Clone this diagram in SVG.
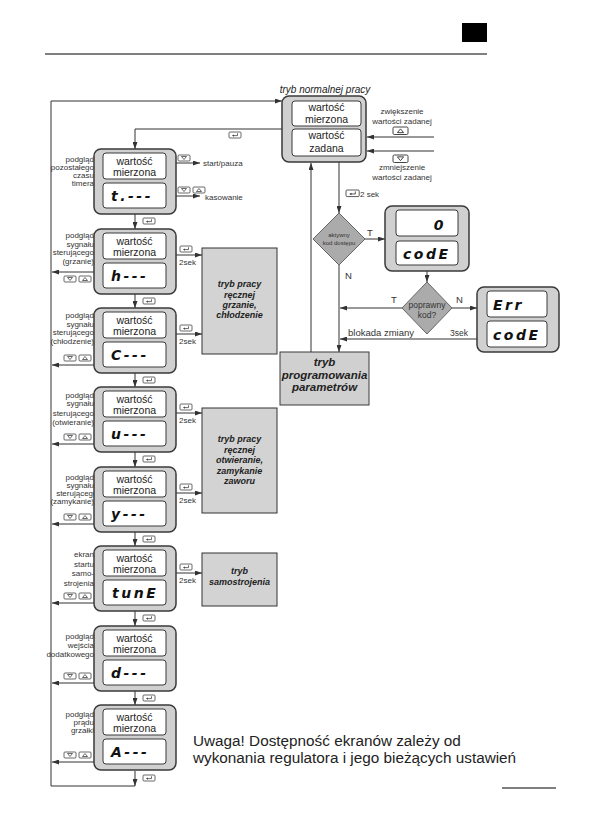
<svg xmlns="http://www.w3.org/2000/svg" xmlns:xlink="http://www.w3.org/1999/xlink" width="596" height="840" viewBox="0 0 596 840">
<style>
.box{fill:#d0d0d0;stroke:#3a3a3a;stroke-width:1.5}
.disp{fill:#fff;stroke:#3a3a3a;stroke-width:1}
.mode{fill:#d3d3d3;stroke:#333;stroke-width:1}
.dia{fill:#ababab;stroke:#666;stroke-width:1}
.ln{fill:none;stroke:#333;stroke-width:1}
.wm{font-family:"Liberation Sans",Arial,sans-serif;font-size:10.5px;fill:#222;text-anchor:middle}
.lbl{font-family:"Liberation Sans",Arial,sans-serif;font-size:8px;fill:#333;text-anchor:end}
.sm{font-family:"Liberation Sans",Arial,sans-serif;font-size:8px;fill:#333}
.smc{font-family:"Liberation Sans",Arial,sans-serif;font-size:8px;fill:#333;text-anchor:middle}
.seg{font-family:"DejaVu Sans",sans-serif;font-size:14px;font-weight:bold;font-style:italic;fill:#111;letter-spacing:2.5px}
.modet{font-family:"Liberation Sans",Arial,sans-serif;font-size:9px;font-weight:bold;font-style:italic;fill:#222;text-anchor:middle}
.prog{font-family:"Liberation Sans",Arial,sans-serif;font-size:11.5px;font-weight:bold;font-style:italic;fill:#222;text-anchor:middle}
.btn{fill:#fff;stroke:#444;stroke-width:0.8}
.ico{fill:none;stroke:#444;stroke-width:0.8}
</style>
<defs>
<marker id="a" markerWidth="7" markerHeight="5" refX="7" refY="2.5" orient="auto" markerUnits="userSpaceOnUse"><path d="M0,0 L7,2.5 L0,5 z" fill="#333"/></marker>
<g id="bd"><rect class="btn" x="0" y="0" width="12" height="6" rx="1"/><path class="ico" d="M3.5,1.5 L8.5,1.5 L6,4.5 z"/></g>
<g id="bu"><rect class="btn" x="0" y="0" width="12" height="6" rx="1"/><path class="ico" d="M3.5,4.5 L8.5,4.5 L6,1.5 z"/></g>
<g id="be"><rect class="btn" x="0" y="0" width="12" height="6" rx="1"/><path class="ico" d="M8.5,1.3 V3.6 H3.8"/><path d="M3,3.6 L5,2.4 L5,4.8 z" fill="#444"/></g>
</defs>
<rect width="596" height="840" fill="#fff"/>
<!-- header -->
<rect x="462" y="23" width="25" height="19" fill="#000"/>
<line x1="45" y1="54" x2="487" y2="54" stroke="#000" stroke-width="1"/>

<!-- connectors -->
<g id="connectors">
<polyline class="ln" points="135,786 51,786 51,101 282,101" marker-end="url(#a)"/>
<path class="ln" d="M135,771 V786" marker-end="url(#a)"/>
<polyline class="ln" points="282,129 135,129 135,149" marker-end="url(#a)"/>
<path class="ln" d="M135,214 V229" marker-end="url(#a)"/>
<path class="ln" d="M135,294 V308" marker-end="url(#a)"/>
<path class="ln" d="M135,373 V387" marker-end="url(#a)"/>
<path class="ln" d="M135,452 V467" marker-end="url(#a)"/>
<path class="ln" d="M135,532 V546" marker-end="url(#a)"/>
<path class="ln" d="M135,611 V626" marker-end="url(#a)"/>
<path class="ln" d="M135,691 V705" marker-end="url(#a)"/>
<path class="ln" d="M94,272 H52" marker-end="url(#a)"/>
<path class="ln" d="M94,365 H52" marker-end="url(#a)"/>
<path class="ln" d="M94,444 H52" marker-end="url(#a)"/>
<path class="ln" d="M94,524 H52" marker-end="url(#a)"/>
<path class="ln" d="M94,603 H52" marker-end="url(#a)"/>
<path class="ln" d="M94,683 H52" marker-end="url(#a)"/>
<path class="ln" d="M94,762 H52" marker-end="url(#a)"/>
<path class="ln" d="M176,255 H202" marker-end="url(#a)"/>
<path class="ln" d="M176,334 H202" marker-end="url(#a)"/>
<path class="ln" d="M176,413 H202" marker-end="url(#a)"/>
<path class="ln" d="M176,493 H202" marker-end="url(#a)"/>
<path class="ln" d="M176,573 H202" marker-end="url(#a)"/>
<path class="ln" d="M176,163 H200" marker-end="url(#a)"/>
<path class="ln" d="M176,196 H200" marker-end="url(#a)"/>
<path class="ln" d="M434,137 H367" marker-end="url(#a)"/>
<path class="ln" d="M434,151 H367" marker-end="url(#a)"/>
<path class="ln" d="M339,162 V213" marker-end="url(#a)"/>
<path class="ln" d="M365,239 H385" marker-end="url(#a)"/>
<path class="ln" d="M339,265 V352" marker-end="url(#a)"/>
<path class="ln" d="M427,271 V282" marker-end="url(#a)"/>
<path class="ln" d="M402,308 H340" marker-end="url(#a)"/>
<path class="ln" d="M452,308 H477" marker-end="url(#a)"/>
<path class="ln" d="M477,339 H340" marker-end="url(#a)"/>
<path class="ln" d="M311,352 V163" marker-end="url(#a)"/>
<use xlink:href="#be" x="229" y="132"/>
<use xlink:href="#be" x="143" y="218"/>
<use xlink:href="#be" x="143" y="298"/>
<use xlink:href="#be" x="143" y="377"/>
<use xlink:href="#be" x="143" y="456"/>
<use xlink:href="#be" x="143" y="536"/>
<use xlink:href="#be" x="143" y="615"/>
<use xlink:href="#be" x="143" y="695"/>
<use xlink:href="#be" x="143" y="775"/>
<use xlink:href="#bd" x="64" y="276"/><use xlink:href="#bu" x="79" y="276"/>
<use xlink:href="#bd" x="64" y="355"/><use xlink:href="#bu" x="79" y="355"/>
<use xlink:href="#bd" x="64" y="434"/><use xlink:href="#bu" x="79" y="434"/>
<use xlink:href="#bd" x="64" y="514"/><use xlink:href="#bu" x="79" y="514"/>
<use xlink:href="#bd" x="64" y="593"/><use xlink:href="#bu" x="79" y="593"/>
<use xlink:href="#bd" x="64" y="673"/><use xlink:href="#bu" x="79" y="673"/>
<use xlink:href="#bd" x="64" y="752"/><use xlink:href="#bu" x="79" y="752"/>
<use xlink:href="#be" x="180" y="246"/><text class="sm" x="179" y="265">2sek</text>
<use xlink:href="#be" x="180" y="325"/><text class="sm" x="179" y="344">2sek</text>
<use xlink:href="#be" x="180" y="404"/><text class="sm" x="179" y="423">2sek</text>
<use xlink:href="#be" x="180" y="484"/><text class="sm" x="179" y="503">2sek</text>
<use xlink:href="#be" x="180" y="564"/><text class="sm" x="179" y="583">2sek</text>
<use xlink:href="#bd" x="178" y="155"/>
<text class="sm" x="203" y="166">start/pauza</text>
<use xlink:href="#bd" x="178" y="187"/><use xlink:href="#bu" x="193" y="187"/>
<text class="sm" x="205" y="200">kasowanie</text>
<text class="smc" x="402" y="114">zwiększenie</text>
<text class="smc" x="402" y="124">wartości zadanej</text>
<use xlink:href="#bu" transform="translate(393,127) scale(1.25)"/>
<use xlink:href="#bd" transform="translate(393,155) scale(1.25)"/>
<text class="smc" x="402" y="170">zmniejszenie</text>
<text class="smc" x="402" y="180">wartości zadanej</text>
<use xlink:href="#be" transform="translate(346,190) scale(1.1)"/>
<text class="sm" x="360" y="197">2 sek</text>
<text class="sm" x="367" y="236" style="font-size:9.5px">T</text>
<text class="sm" x="345" y="279" style="font-size:9.5px">N</text>
<text class="sm" x="391" y="303" style="font-size:9.5px">T</text>
<text class="sm" x="456" y="303" style="font-size:9.5px">N</text>
<text class="sm" x="348" y="336" style="font-size:9.5px">blokada zmiany</text>
<text class="sm" x="450" y="336" style="font-size:8.5px">3sek</text>
</g>

<text x="325" y="93" style="font-family:'Liberation Sans',Arial,sans-serif;font-size:10px;font-style:italic;fill:#222;text-anchor:middle">tryb normalnej pracy</text>

<g id="normal">
<rect class="box" x="282" y="96" width="84" height="66" rx="7"/>
<rect class="disp" x="292" y="101" width="69" height="25" rx="3"/>
<rect class="disp" x="292" y="129" width="69" height="27" rx="3"/>
<text class="wm" x="326.5" y="111">wartość</text>
<text class="wm" x="326.5" y="123">mierzona</text>
<text class="wm" x="326.5" y="139">wartość</text>
<text class="wm" x="326.5" y="152">zadana</text>
</g>

<g id="timer" transform="translate(94,149)">
<text class="lbl" x="0" y="13">podgląd</text>
<text class="lbl" x="0" y="20.5">pozostałego</text>
<text class="lbl" x="0" y="28.5">czasu</text>
<text class="lbl" x="0" y="37">timera</text>
<rect class="box" x="0" y="0" width="82" height="65" rx="7"/>
<rect class="disp" x="9" y="4" width="63" height="26" rx="3"/>
<rect class="disp" x="9" y="34" width="63" height="25" rx="3"/>
<text class="wm" x="40.5" y="15.5">wartość</text>
<text class="wm" x="40.5" y="26.5">mierzona</text>
<text class="seg" x="17" y="52">t.---</text>
</g>

<g id="heat" transform="translate(94,229)">
<text class="lbl" x="0" y="9">podgląd</text>
<text class="lbl" x="0" y="17.5">sygnału</text>
<text class="lbl" x="0" y="26">sterującego</text>
<text class="lbl" x="0" y="34.5">(grzanie)</text>
<rect class="box" x="0" y="0" width="82" height="65" rx="7"/>
<rect class="disp" x="9" y="4" width="63" height="26" rx="3"/>
<rect class="disp" x="9" y="34" width="63" height="25" rx="3"/>
<text class="wm" x="40.5" y="15.5">wartość</text>
<text class="wm" x="40.5" y="26.5">mierzona</text>
<text class="seg" x="17" y="52">h---</text>
</g>

<g id="cool" transform="translate(94,308)">
<text class="lbl" x="0" y="10">podgląd</text>
<text class="lbl" x="0" y="18.5">sygnału</text>
<text class="lbl" x="0" y="27">sterującego</text>
<text class="lbl" x="0" y="36">(chłodzenie)</text>
<rect class="box" x="0" y="0" width="82" height="65" rx="7"/>
<rect class="disp" x="9" y="4" width="63" height="26" rx="3"/>
<rect class="disp" x="9" y="34" width="63" height="25" rx="3"/>
<text class="wm" x="40.5" y="15.5">wartość</text>
<text class="wm" x="40.5" y="26.5">mierzona</text>
<text class="seg" x="17" y="52">C---</text>
</g>

<g id="open" transform="translate(94,387)">
<text class="lbl" x="0" y="11">podgląd</text>
<text class="lbl" x="0" y="19">sygnału</text>
<text class="lbl" x="0" y="28.5">sterującego</text>
<text class="lbl" x="0" y="37.5">(otwieranie)</text>
<rect class="box" x="0" y="0" width="82" height="65" rx="7"/>
<rect class="disp" x="9" y="4" width="63" height="26" rx="3"/>
<rect class="disp" x="9" y="34" width="63" height="25" rx="3"/>
<text class="wm" x="40.5" y="15.5">wartość</text>
<text class="wm" x="40.5" y="26.5">mierzona</text>
<text class="seg" x="17" y="52">u---</text>
</g>

<g id="close" transform="translate(94,467)">
<text class="lbl" x="0" y="12.5">podgląd</text>
<text class="lbl" x="0" y="20.5">sygnału</text>
<text class="lbl" x="3.5" y="28.5">sterującego</text>
<text class="lbl" x="0" y="37">(zamykanie)</text>
<rect class="box" x="0" y="0" width="82" height="65" rx="7"/>
<rect class="disp" x="9" y="4" width="63" height="26" rx="3"/>
<rect class="disp" x="9" y="34" width="63" height="25" rx="3"/>
<text class="wm" x="40.5" y="15.5">wartość</text>
<text class="wm" x="40.5" y="26.5">mierzona</text>
<text class="seg" x="17" y="52">y---</text>
</g>

<g id="tune" transform="translate(94,546)">
<text class="lbl" x="0" y="11">ekran</text>
<text class="lbl" x="0" y="20.5">startu</text>
<text class="lbl" x="0" y="30">samo-</text>
<text class="lbl" x="0" y="40">strojenia</text>
<rect class="box" x="0" y="0" width="82" height="65" rx="7"/>
<rect class="disp" x="9" y="4" width="63" height="26" rx="3"/>
<rect class="disp" x="9" y="34" width="63" height="25" rx="3"/>
<text class="wm" x="40.5" y="15.5">wartość</text>
<text class="wm" x="40.5" y="26.5">mierzona</text>
<text class="seg" x="18" y="52">tunE</text>
</g>

<g id="aux" transform="translate(94,626)">
<text class="lbl" x="0" y="13">podgląd</text>
<text class="lbl" x="0" y="22">wejścia</text>
<text class="lbl" x="0" y="31">dodatkowego</text>
<rect class="box" x="0" y="0" width="82" height="65" rx="7"/>
<rect class="disp" x="9" y="4" width="63" height="26" rx="3"/>
<rect class="disp" x="9" y="34" width="63" height="25" rx="3"/>
<text class="wm" x="40.5" y="15.5">wartość</text>
<text class="wm" x="40.5" y="26.5">mierzona</text>
<text class="seg" x="17" y="52">d---</text>
</g>

<g id="current" transform="translate(94,705)">
<text class="lbl" x="0" y="12">podgląd</text>
<text class="lbl" x="0" y="20">prądu</text>
<text class="lbl" x="0" y="28">grzałki</text>
<rect class="box" x="0" y="0" width="82" height="65" rx="7"/>
<rect class="disp" x="9" y="4" width="63" height="26" rx="3"/>
<rect class="disp" x="9" y="34" width="63" height="25" rx="3"/>
<text class="wm" x="40.5" y="15.5">wartość</text>
<text class="wm" x="40.5" y="26.5">mierzona</text>
<text class="seg" x="17" y="52">A---</text>
</g>

<g id="mode-heat">
<rect class="mode" x="202" y="248" width="75" height="106"/>
<text class="modet" x="239.5" y="287">tryb pracy</text>
<text class="modet" x="239.5" y="298">ręcznej</text>
<text class="modet" x="239.5" y="308">grzanie,</text>
<text class="modet" x="239.5" y="318">chłodzenie</text>
</g>
<g id="mode-valve">
<rect class="mode" x="202" y="408" width="75" height="105"/>
<text class="modet" x="239.5" y="442">tryb pracy</text>
<text class="modet" x="239.5" y="453">ręcznej</text>
<text class="modet" x="239.5" y="463">otwieranie,</text>
<text class="modet" x="239.5" y="474">zamykanie</text>
<text class="modet" x="239.5" y="484">zaworu</text>
</g>
<g id="mode-tune">
<rect class="mode" x="202" y="553" width="75" height="53"/>
<text class="modet" x="239.5" y="574">tryb</text>
<text class="modet" x="239.5" y="585">samostrojenia</text>
</g>

<g id="dia1">
<path class="dia" d="M339,213 L365,239 L339,265 L313,239 z"/>
<text class="smc" x="339" y="237" style="font-size:6px">aktywny</text>
<text class="smc" x="339" y="244.5" style="font-size:6px">kod dostępu</text>
</g>
<g id="code">
<rect class="box" x="385" y="206" width="84" height="65" rx="7"/>
<rect class="disp" x="396" y="210" width="62" height="26" rx="3"/>
<rect class="disp" x="396" y="241" width="62" height="24" rx="3"/>
<text class="seg" x="446" y="230" style="text-anchor:end">0</text>
<text class="seg" x="403" y="259">codE</text>
</g>
<g id="dia2">
<path class="dia" d="M427,282 L452,308 L427,334 L402,308 z"/>
<text class="smc" x="427" y="308" style="font-size:8.5px">poprawny</text>
<text class="smc" x="427" y="318" style="font-size:8.5px">kod?</text>
</g>
<g id="err">
<rect class="box" x="477" y="287" width="82" height="65" rx="7"/>
<rect class="disp" x="487" y="291" width="60" height="26" rx="3"/>
<rect class="disp" x="487" y="321" width="60" height="26" rx="3"/>
<text class="seg" x="493" y="310">Err</text>
<text class="seg" x="493" y="340">codE</text>
</g>
<g id="prog">
<rect class="box" x="280" y="352" width="89" height="53" style="stroke-width:1"/>
<text class="prog" x="324.5" y="366">tryb</text>
<text class="prog" x="324.5" y="379">programowania</text>
<text class="prog" x="324.5" y="391">parametrów</text>
</g>

<g id="note" style="font-family:'Liberation Sans',Arial,sans-serif;font-size:15.3px;fill:#222">
<text x="193" y="746">Uwaga! Dostępność ekranów zależy od</text>
<text x="193" y="763">wykonania regulatora i jego bieżących ustawień</text>
</g>
<line x1="502" y1="788" x2="556" y2="788" stroke="#000" stroke-width="1"/>
</svg>
